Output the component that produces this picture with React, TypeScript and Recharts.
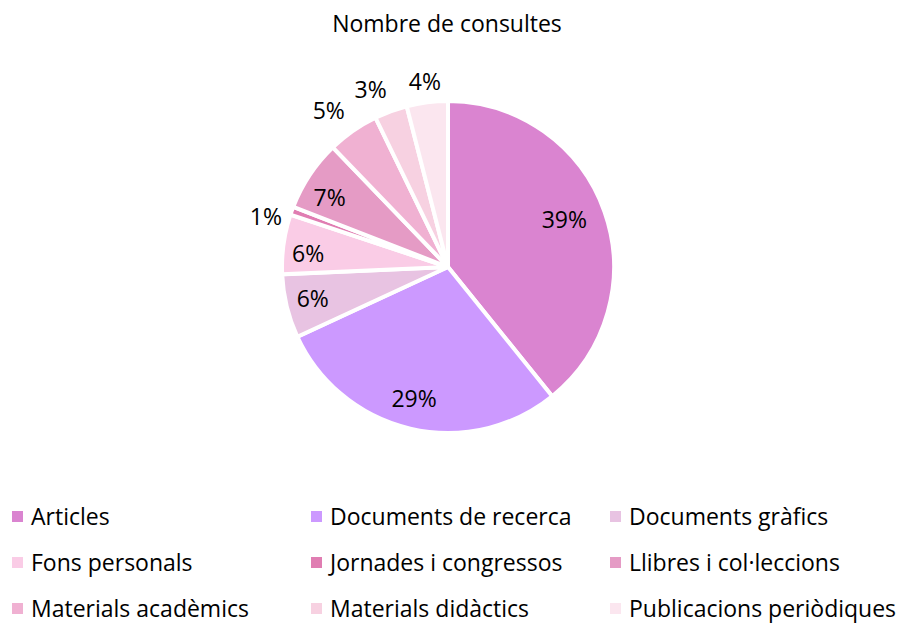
import { PieChart, Pie, Cell, Legend } from 'recharts';

const CATEGORIES = [
  'Articles',
  'Documents de recerca',
  'Documents gràfics',
  'Fons personals',
  'Jornades i congressos',
  'Llibres i col·leccions',
  'Materials acadèmics',
  'Materials didàctics',
  'Publicacions periòdiques',
];
const SHARES = [39.2, 28.9, 6.2, 5.8, 0.8, 6.9, 5.0, 3.2, 4.0];
const COLORS = [
  '#da84d0', '#cc99ff', '#e8c3e2', '#facce6', '#e07db2',
  '#e59bc5', '#f0b1d2', '#f7d1e1', '#fbe6ef',
];
// which labels sit outside the pie, plus small nudges to match the original's placement
const OUTSIDE = [false, false, false, false, true, false, true, true, true];
const NUDGE: [number, number][] = [
  [-12, -3], [-3, -2], [-3, -1], [-5, 5], [-1, 14], [-5, 5], [-9, 1], [-11, 3], [1, 5],
];

const FONT = '"Open Sans", sans-serif';
const RAD = Math.PI / 180;

const data = CATEGORIES.map((name, i) => ({ name, value: SHARES[i] }));
const total = SHARES.reduce((s, v) => s + v, 0);

function renderLabel(props: any) {
  const { cx, cy, midAngle, outerRadius, index, value } = props;
  const r = OUTSIDE[index] ? outerRadius * 1.16 : outerRadius * 0.82;
  const x = cx + r * Math.cos(-midAngle * RAD) + NUDGE[index][0];
  const y = cy + r * Math.sin(-midAngle * RAD) + NUDGE[index][1];
  return (
    <text
      x={x}
      y={y}
      textAnchor="middle"
      dominantBaseline="central"
      fill="#000"
      fontSize={23}
      fontFamily={FONT}
    >
      {Math.round((value / total) * 100)}%
    </text>
  );
}

function LegendBox() {
  return (
    <div
      style={{
        display: 'grid',
        gridTemplateColumns: '299px 299px 302px',
        rowGap: 20,
        fontFamily: FONT,
        fontSize: 23,
        color: '#000',
      }}
    >
      {CATEGORIES.map((c, i) => (
        <div key={c} style={{ display: 'flex', alignItems: 'center', paddingLeft: 12, height: 26 }}>
          <span
            style={{ width: 11, height: 11, background: COLORS[i], marginRight: 8, flexShrink: 0 }}
          />
          <span style={{ whiteSpace: 'nowrap' }}>{c}</span>
        </div>
      ))}
    </div>
  );
}

export default function App() {
  return (
    <div style={{ position: 'absolute', top: 0, left: 0, width: 900, height: 625, background: '#fff' }}>
      <PieChart width={900} height={625} margin={{ top: 0, right: 0, bottom: 0, left: 0 }}>
        <text
          x={447}
          y={23}
          textAnchor="middle"
          dominantBaseline="central"
          fontSize={23}
          fontFamily={FONT}
          fill="#000"
        >
          Nombre de consultes
        </text>
        <Pie
          data={data}
          dataKey="value"
          nameKey="name"
          cx={448}
          cy={267}
          outerRadius={166}
          startAngle={90}
          endAngle={-270}
          stroke="#fff"
          strokeWidth={4}
          label={renderLabel}
          labelLine={false}
          isAnimationActive={false}
        >
          {data.map((_, i) => (
            <Cell key={i} fill={COLORS[i]} />
          ))}
        </Pie>
        <Legend
          content={() => <LegendBox />}
          wrapperStyle={{ position: 'absolute', top: 503, left: 0, width: 900 }}
        />
      </PieChart>
    </div>
  );
}
